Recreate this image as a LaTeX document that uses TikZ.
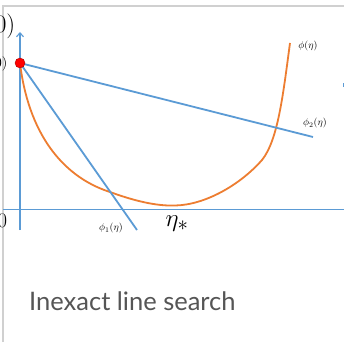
\documentclass[tikz,border=0pt]{standalone}
\usepackage{fontspec}
\setsansfont{Lato}
\usetikzlibrary{arrows.meta}
\definecolor{lblue}{HTML}{5B9BD5}
\definecolor{lorange}{HTML}{ED7D31}
\definecolor{frame}{HTML}{D0D0D0}
\definecolor{captxt}{HTML}{555555}
\tikzset{
  ax/.style={draw=lblue, line width=1.1pt},
  tangent/.style={draw=lblue, line width=1.8pt},
  phicurve/.style={draw=lorange, line width=1.8pt},
  smalllbl/.style={inner sep=0pt, font=\fontsize{10}{10}\selectfont},
}
\begin{document}
\begin{tikzpicture}[x=1pt,y=-1pt]
\useasboundingbox (0,0) rectangle (344,342);
\clip (0,0) rectangle (344,342);
\fill[white] (0,0) rectangle (344,342);
% frame
\draw[frame, line width=1.5pt] (3,342) -- (3,6) -- (344,6);
% coordinates
\coordinate (O) at (20,63);
\coordinate (yb) at (20,230);
\coordinate (yt) at (20,32);
\coordinate (xl) at (3,209.5);
\coordinate (xr) at (344,209.5);
\coordinate (t1) at (137,230);
\coordinate (t2) at (313,137);
% axes
\draw[ax] (xl) -- (xr);
\draw[ax, -{Straight Barb[length=4pt,width=7pt]}] (yb) -- (yt);
% curve
\draw[phicurve] (O) .. controls (28,130) and (60,176) .. (110,192)
  .. controls (140,203) and (160,206) .. (175,205.5)
  .. controls (205,205) and (240,185) .. (262,160)
  .. controls (278,140) and (283,95) .. (290,43);
% tangent lines
\draw[tangent] (O) -- (t1);
\draw[tangent] (O) -- (t2);
% dot
\node[circle, fill=red, draw=red!65!black, line width=0.4pt, minimum size=10pt, inner sep=0pt] (dot) at (O) {};
% labels
\node[anchor=base east, inner sep=0pt, font=\fontsize{24}{24}\selectfont] (lbltop) at (15.5,33) {$\phi(0)$};
\node[anchor=base east, inner sep=0pt, font=\fontsize{15}{15}\selectfont] (lblmid) at (7.5,67) {$\phi(0)$};
\node[inner sep=0pt, font=\fontsize{22}{22}\selectfont] (lblzero) at (2.5,220.5) {$0$};
\node[inner sep=0pt, font=\fontsize{28}{28}\selectfont] (lbleta) at (177,224) {$\eta_*$};
\node[smalllbl] (lblphi1) at (111,228) {$\phi_1(\eta)$};
\node[smalllbl] (lblphi) at (308,46) {$\phi(\eta)$};
\node[smalllbl] (lblphi2) at (315,123) {$\phi_2(\eta)$};
\draw[lblue, line width=1.2pt] (343.5,83) -- (343.5,87);
% caption
\node[anchor=west, inner sep=0pt, text=captxt, font=\sffamily\fontsize{25.5}{25.5}\selectfont] (cap) at (29,301) {Inexact line search};
\end{tikzpicture}
\end{document}
